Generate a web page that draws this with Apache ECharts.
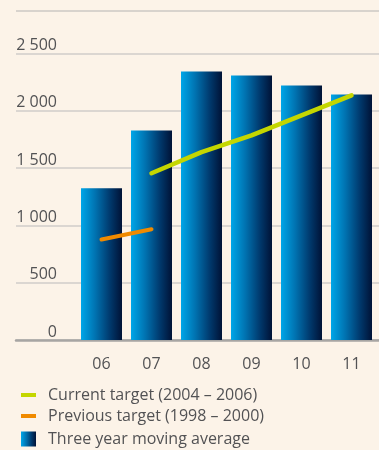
<!DOCTYPE html>
<html>
<head>
<meta charset="utf-8">
<script src="https://cdn.jsdelivr.net/npm/echarts@6/dist/echarts.min.js"></script>
<style>
  html, body { margin: 0; padding: 0; background: #fcf3e8; }
  #chart { width: 379px; height: 450px; }
</style>
</head>
<body>
<div id="chart"></div>
<script>
// Years shown on the category axis
const years = ['06', '07', '08', '09', '10', '11'];
// Three year moving average
const movingAverage = [1324, 1829, 2343, 2308, 2221, 2143];
// Current target (2004 – 2006)
const currentTarget = [null, 1455, 1640, 1786, 1960, 2134];
// Previous target (1998 – 2000)
const previousTarget = [877, 967, null, null, null, null];
// Value axis range and step
const yMin = 0, yMax = 2500, yStep = 500;

const textColor = '#525254';
const font = '"Open Sans", "Noto Sans", sans-serif';

const barGradient = new echarts.graphic.LinearGradient(0, 0, 1, 0, [
  { offset: 0, color: '#00a6e8' },
  { offset: 0.35, color: '#0072b0' },
  { offset: 0.7, color: '#003a6e' },
  { offset: 1, color: '#001236' }
]);

const chart = echarts.init(document.getElementById('chart'), null, { renderer: 'canvas' });

const legendBase = {
  orient: 'vertical',
  left: 16,
  itemWidth: 15,
  textStyle: { color: textColor, fontSize: 16, fontFamily: font, padding: [0, 0, 0, 7] },
  selectedMode: false
};

chart.setOption({
  backgroundColor: '#fcf3e8',
  animation: false,
  textStyle: { fontFamily: font },
  graphic: [{
    type: 'line',
    shape: { x1: 16, y1: 11, x2: 379, y2: 11 },
    style: { stroke: '#cdc9c4', lineWidth: 1.5 }
  }],
  legend: [
    Object.assign({}, legendBase, { top: 382, itemHeight: 4, icon: 'rect', data: ['Current target (2004 – 2006)'] }),
    Object.assign({}, legendBase, { top: 403, itemHeight: 4, icon: 'rect', data: ['Previous target (1998 – 2000)'] }),
    Object.assign({}, legendBase, { top: 426, itemHeight: 15, icon: 'rect', data: ['Three year moving average'] })
  ],
  grid: [
    { left: 16, right: 0, top: 53.5, bottom: 110 },
    { left: 76.5, right: 2.5, top: 53.5, bottom: 110 }
  ],
  xAxis: [
    {
      gridIndex: 0, type: 'value', min: 0, max: 1,
      axisLine: { show: true, onZero: false, lineStyle: { color: '#a7a5a3', width: 2.5 } },
      axisTick: { show: false }, axisLabel: { show: false }, splitLine: { show: false }
    },
    {
      gridIndex: 1, type: 'category', data: years,
      axisLine: { show: false }, axisTick: { show: false },
      axisLabel: { color: textColor, fontSize: 16, fontFamily: font, margin: 16 }
    }
  ],
  yAxis: [
    {
      gridIndex: 0, type: 'value', min: yMin, max: yMax, interval: yStep,
      axisLine: { show: false }, axisTick: { show: false },
      axisLabel: {
        color: textColor, fontSize: 16, fontFamily: font,
        align: 'right', verticalAlign: 'bottom', margin: -41,
        formatter: v => v >= 1000 ? Math.floor(v / 1000) + ' ' + String(v % 1000).padStart(3, '0') : String(v)
      },
      splitLine: { show: true, lineStyle: { color: '#d0cdca', width: 1.5 } }
    },
    {
      gridIndex: 1, type: 'value', min: yMin, max: yMax, interval: yStep, show: false,
      splitLine: { show: false }
    }
  ],
  series: [
    {
      name: 'Three year moving average', type: 'bar',
      xAxisIndex: 1, yAxisIndex: 1,
      data: movingAverage, barWidth: 41,
      itemStyle: { color: barGradient }
    },
    {
      name: 'Current target (2004 – 2006)', type: 'line',
      xAxisIndex: 1, yAxisIndex: 1,
      data: currentTarget, showSymbol: false,
      color: '#c4d600',
      lineStyle: { color: '#c4d600', width: 4.5, cap: 'round', join: 'round' },
      itemStyle: { color: '#c4d600' }
    },
    {
      name: 'Previous target (1998 – 2000)', type: 'line',
      xAxisIndex: 1, yAxisIndex: 1,
      data: previousTarget, showSymbol: false,
      color: '#f08a00',
      lineStyle: { color: '#f08a00', width: 4, cap: 'round' },
      itemStyle: { color: '#f08a00' }
    }
  ]
});
</script>
</body>
</html>
